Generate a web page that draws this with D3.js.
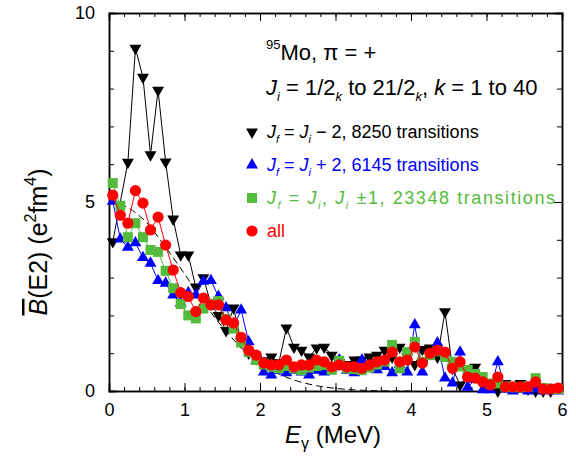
<!DOCTYPE html>
<html><head><meta charset="utf-8">
<script src="https://cdn.jsdelivr.net/npm/d3@7"></script>
<style>body{margin:0;background:#fff}svg{display:block;font-family:"Liberation Sans",Arial,sans-serif}</style>
</head><body><svg id="c" width="576" height="456"></svg>
<script>
const energies = [0.05,0.15,0.25,0.35,0.45,0.55,0.65,0.75,0.85,0.95,1.05,1.15,1.25,1.35,1.45,1.55,1.65,1.75,1.85,1.95,
2.05,2.15,2.25,2.35,2.45,2.55,2.65,2.75,2.85,2.95,3.05,3.15,3.25,3.35,3.45,3.55,3.65,3.75,3.85,3.95,
4.05,4.15,4.25,4.35,4.45,4.55,4.65,4.75,4.85,4.95,5.05,5.15,5.25,5.35,5.45,5.55,5.65,5.75,5.85,5.95];
const blackDown = [3.95,null,6.05,9.07,8.3,6.25,7.96,6.06,4.55,3.6,3.6,2.75,3.0,2.3,2.0,1.6,2.2,1.3,1.0,0.85,
0.8,0.9,0.75,1.67,1.16,1.08,0.9,1.14,1.16,0.95,0.75,0.7,0.82,0.82,0.9,0.95,1.08,0.9,1.16,0.9,
0.7,1.1,1.14,0.9,2.1,0.6,0.16,null,0.63,null,null,0.0,0.2,null,0.2,0.05,0.0,0.0,0.0,null];
const blueUp = [5.02,4.02,3.8,3.92,3.53,3.38,2.92,2.85,2.54,2.33,2.6,2.54,2.9,2.92,2.5,2.2,1.7,2.14,1.3,0.8,
0.5,0.42,0.55,0.48,0.55,0.5,0.42,0.55,0.5,0.6,0.82,0.55,0.48,0.82,0.6,0.56,0.65,0.48,0.7,0.5,
1.75,0.5,0.95,1.27,0.34,0.21,1.03,0.1,0.3,0.03,0.03,0.77,0.05,0.0,0.05,0.0,0.05,0.0,0.02,0.0];
const greenSq = [5.5,4.9,4.07,4.44,4.07,3.73,3.68,3.18,2.72,2.3,2.0,1.92,2.18,2.3,2.38,1.9,1.65,1.28,1.03,0.82,
0.7,0.64,0.6,0.66,0.6,0.55,0.62,0.66,0.69,0.56,0.8,0.6,0.58,0.55,0.62,0.7,0.78,1.22,0.6,1.03,
1.3,0.77,0.95,1.05,0.9,0.77,0.65,0.56,0.45,0.37,0.2,0.2,0.12,0.1,0.1,0.12,0.34,0.08,0.06,0.05];
const redAll = [5.18,4.65,4.44,5.3,4.97,4.26,4.6,3.86,3.2,2.6,2.5,2.1,2.46,2.28,2.28,1.88,1.8,1.42,1.08,0.95,
0.74,0.69,0.69,0.82,0.64,0.69,0.69,0.82,0.77,0.64,0.69,0.64,0.64,0.6,0.69,0.77,0.82,1.03,0.77,0.82,
1.16,0.74,1.0,1.08,1.03,0.6,0.77,0.37,0.34,0.24,0.16,0.37,0.11,0.11,0.11,0.11,0.24,0.05,0.05,0.08];
const fitE = [0,0.25,0.5,0.75,1.0,1.25,1.5,1.75,2.0,2.25,2.5,2.75,3.0,3.25,3.5,3.75,4.0];
const fitB = [5.0,4.85,4.45,3.8,3.1,2.35,1.7,1.15,0.73,0.45,0.26,0.14,0.07,0.03,0.01,0.0,0.0];
const xTicks = [0,1,2,3,4,5,6];
const yTicks = [0,5,10];

const svg = d3.select('#c');
const x = d3.scaleLinear().domain([0,6]).range([109,562]);
const y = d3.scaleLinear().domain([0,10]).range([391,13]);

// axes
const gAx = svg.append('g');
function minor(step, lo, hi){ const a=[]; for(let v=lo; v<=hi+1e-9; v+=step) a.push(+v.toFixed(3)); return a; }
const xMinor = minor(0.2,0,6), yMinor = minor(1,0,10);
gAx.append('g').attr('transform','translate(0,391)')
  .call(d3.axisBottom(x).tickValues(xMinor).tickSize(-4).tickFormat(''));
gAx.append('g').attr('transform','translate(0,391)')
  .call(d3.axisBottom(x).tickValues(xTicks).tickSize(-8).tickPadding(12).tickFormat(d3.format('d')));
gAx.append('g').attr('transform','translate(0,13)')
  .call(d3.axisTop(x).tickValues(xMinor).tickSize(-4).tickFormat(''));
gAx.append('g').attr('transform','translate(0,13)')
  .call(d3.axisTop(x).tickValues(xTicks).tickSize(-8).tickFormat(''));
gAx.append('g').attr('transform','translate(109,0)')
  .call(d3.axisLeft(y).tickValues(yMinor).tickSize(-5).tickFormat(''));
gAx.append('g').attr('transform','translate(109,0)')
  .call(d3.axisLeft(y).tickValues(yTicks).tickSize(-8).tickPadding(14).tickFormat(d3.format('d')));
gAx.append('g').attr('transform','translate(562,0)')
  .call(d3.axisRight(y).tickValues(yMinor).tickSize(-5).tickFormat(''));
gAx.append('g').attr('transform','translate(562,0)')
  .call(d3.axisRight(y).tickValues(yTicks).tickSize(-8).tickFormat(''));
gAx.selectAll('.domain').attr('stroke','#000').attr('stroke-width',1.5);
gAx.selectAll('.tick line').attr('stroke','#000').attr('stroke-width',1);
gAx.selectAll('.tick text').attr('font-size',18).attr('fill','#000').attr('font-family','"Liberation Sans",Arial,sans-serif');

// fit curve
const fitPts = fitE.map((e,i)=>[e,fitB[i]]);
svg.append('path').datum(fitPts)
  .attr('d', d3.line().x(d=>x(d[0])).y(d=>y(d[1])).curve(d3.curveMonotoneX))
  .attr('fill','none').attr('stroke','#000').attr('stroke-width',1).attr('stroke-dasharray','7,4');

const series = [
  {vals: blackDown, color:'#000000', type:'down'},
  {vals: blueUp, color:'#0000ff', type:'up'},
  {vals: greenSq, color:'#55bb3c', type:'sq'},
  {vals: redAll, color:'#ff0000', type:'circ'}
];
function marker(sel, type, color){
  if(type==='circ') return sel.append('circle').attr('r',5.6).attr('fill',color);
  const sym = type==='sq' ? d3.symbol(d3.symbolSquare, 100) : d3.symbol(d3.symbolTriangle, 62);
  const p = sel.append('path').attr('d', sym()).attr('fill',color);
  if(type==='down') p.attr('transform','rotate(180)');
  return p;
}
series.forEach(s=>{
  const pts = energies.map((e,i)=>[e,s.vals[i]]).filter(d=>d[1]!==null);
  svg.append('path').datum(pts)
    .attr('d', d3.line().x(d=>x(d[0])).y(d=>y(d[1])))
    .attr('fill','none').attr('stroke',s.color).attr('stroke-width',1);
  const g = svg.append('g');
  pts.forEach(d=>{
    const m = g.append('g').attr('transform',`translate(${x(d[0])},${y(d[1])})`);
    marker(m, s.type, s.color);
  });
});

// annotation text
const t1 = svg.append('text').attr('x',266).attr('y',60).attr('font-size',22).attr('fill','#000');
t1.append('tspan').attr('font-size',13).attr('dy',-11).text('95');
t1.append('tspan').attr('dy',11).text('Mo, π = +');
const t2 = svg.append('text').attr('x',266).attr('y',95).attr('font-size',22).attr('fill','#000');
t2.append('tspan').attr('font-style','italic').text('J');
t2.append('tspan').attr('font-style','italic').attr('font-size',13).attr('dy',6).text('i');
t2.append('tspan').attr('dy',-6).text(' = 1/2');
t2.append('tspan').attr('font-style','italic').attr('font-size',13).attr('dy',6).text('k');
t2.append('tspan').attr('dy',-6).text(' to 21/2');
t2.append('tspan').attr('font-style','italic').attr('font-size',13).attr('dy',6).text('k');
t2.append('tspan').attr('dy',-6).text(', ');
t2.append('tspan').attr('font-style','italic').text('k');
t2.append('tspan').text(' = 1 to 40');

const legendRows = [
  {type:'down', color:'#000000', y:138, parts:[['J','i'],['f','is'],[' = ',''],['J','i'],['i','is'],[' − 2, 8250 transitions','']]},
  {type:'up', color:'#0000ff', y:171, parts:[['J','i'],['f','is'],[' = ',''],['J','i'],['i','is'],[' + 2, 6145 transitions','']]},
  {type:'sq', color:'#55bb3c', y:204, width:288, parts:[['J','i'],['f','is'],[' = ',''],['J','i'],['i','is'],[', ',''],['J','i'],['i','is'],[' ±1, 23348 transitions','']]},
  {type:'circ', color:'#ff0000', y:237, parts:[['all','']]}
];
legendRows.forEach(r=>{
  const m = svg.append('g').attr('transform',`translate(252,${r.y-6})`);
  marker(m, r.type, r.color);
  const t = svg.append('text').attr('x',267).attr('y',r.y).attr('font-size',18).attr('fill',r.color);
  if(r.width) t.attr('textLength', r.width).attr('lengthAdjust','spacing');
  let sub=false;
  r.parts.forEach(p=>{
    const ts = t.append('tspan').text(p[0]);
    if(p[1].includes('i')) ts.attr('font-style','italic');
    if(p[1].includes('s')){ ts.attr('font-size',11).attr('dy', 5); sub=true; }
    else if(sub){ ts.attr('dy',-5); sub=false; }
  });
});

// axis titles
const xl = svg.append('text').attr('x',333).attr('y',443).attr('text-anchor','middle').attr('font-size',24).attr('fill','#000');
xl.append('tspan').attr('font-style','italic').text('E');
xl.append('tspan').attr('font-size',16).attr('dy',6).text('γ');
xl.append('tspan').attr('dy',-6).text(' (MeV)');

const yl = svg.append('text').attr('transform','translate(47,242) rotate(-90)').attr('text-anchor','middle').attr('font-size',25).attr('fill','#000');
yl.append('tspan').attr('font-style','italic').attr('text-decoration','overline').text('B');
yl.append('tspan').text('(E2) (e');
yl.append('tspan').attr('font-size',16).attr('dy',-11).text('2');
yl.append('tspan').attr('dy',11).text('fm');
yl.append('tspan').attr('font-size',16).attr('dy',-11).text('4');
yl.append('tspan').attr('dy',11).text(')');
</script></body></html>
